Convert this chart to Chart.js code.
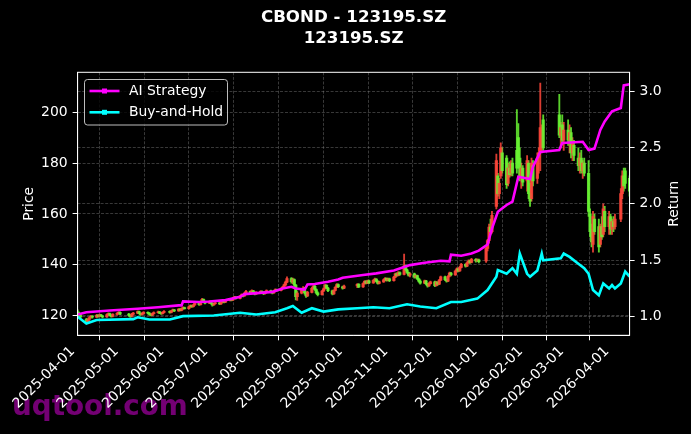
<!DOCTYPE html>
<html>
<head>
<meta charset="utf-8">
<script src="https://cdn.jsdelivr.net/npm/chart.js@4.4.1/dist/chart.umd.min.js"></script>
<style>
  html, body { margin: 0; padding: 0; background: #000; }
</style>
</head>
<body>
<canvas id="chart" width="691" height="434"></canvas>
<script>
// ---- data ----
const titleLines = ["CBOND - 123195.SZ", "123195.SZ"];
const startDate = "2025-04-01";
const endDate = "2026-04-13";
const holidays = ["2025-04-04", "2025-05-01", "2025-05-02", "2025-05-05", "2025-06-02",
  "2025-10-01", "2025-10-02", "2025-10-03", "2025-10-06", "2025-10-07", "2025-10-08",
  "2026-01-01", "2026-01-02", "2026-02-16", "2026-02-17", "2026-02-18", "2026-02-19",
  "2026-02-20", "2026-02-23", "2026-04-06"];
const monthTicks = ["2025-04-01", "2025-05-01", "2025-06-01", "2025-07-01", "2025-08-01",
  "2025-09-01", "2025-10-01", "2025-11-01", "2025-12-01", "2026-01-01", "2026-02-01",
  "2026-03-01", "2026-04-01"];
const priceTicks = [120, 140, 160, 180, 200];
const returnTicks = [1.0, 1.5, 2.0, 2.5, 3.0];

// open, high, low, close for each trading day
const ohlc = [
  // 2025-04
  [121.5,122.3,120.6,121.0],[121.0,121.4,119.8,120.2],[120.2,120.6,119.2,119.5],[118.6,119.0,116.9,117.6],
  [117.6,118.9,117.3,118.5],[118.5,119.6,118.0,119.3],[119.5,120.2,119.0,119.8],[119.8,120.1,119.0,119.4],
  [119.4,120.5,119.2,120.2],[120.2,120.4,119.4,119.7],[119.7,120.6,119.5,120.3],[120.3,120.5,119.6,119.9],
  [119.9,120.1,119.1,119.5],[119.5,120.7,119.3,120.4],[120.4,121.1,120.1,120.8],[120.8,121.0,119.9,120.1],
  [120.1,120.3,119.4,119.7],[119.7,120.8,119.5,120.5],[120.5,121.2,120.2,120.9],[120.9,121.6,120.6,121.3],
  [121.3,121.5,120.4,120.6],
  // 2025-05
  [120.6,120.9,119.8,120.1],[120.1,120.4,119.3,119.7],[119.7,120.9,119.5,120.6],[120.6,121.3,120.3,121.0],
  [121.0,121.9,120.8,121.6],[121.6,121.8,120.7,120.9],[120.9,121.1,120.1,120.4],[120.4,121.1,120.2,120.8],
  [120.8,121.6,120.6,121.3],[121.3,121.5,120.7,121.0],[121.0,121.2,120.3,120.5],[120.5,120.7,119.9,120.2],
  [120.2,121.0,120.0,120.8],[120.8,121.5,120.6,121.2],[121.2,121.8,121.0,121.5],[121.5,121.7,120.8,121.0],
  [121.0,121.2,120.5,120.8],[120.8,121.5,120.6,121.3],[121.3,122.0,121.1,121.7],
  // 2025-06
  [121.7,121.9,121.0,121.3],[121.3,122.1,121.1,121.9],[121.9,122.6,121.7,122.3],[122.3,122.5,121.6,121.9],
  [121.9,122.8,121.7,122.6],[122.6,122.8,121.9,122.1],[122.1,123.1,121.9,122.8],[122.8,123.5,122.5,123.2],
  [123.2,123.4,122.6,122.8],[122.8,123.8,122.6,123.5],[123.5,124.3,123.3,124.0],[124.0,124.2,123.3,123.6],
  [123.6,124.5,123.4,124.2],[124.2,125.2,124.0,124.9],[124.9,125.1,124.0,124.3],[124.3,125.8,124.1,125.5],
  [125.5,126.8,125.3,126.4],[126.4,126.6,125.2,125.5],[125.5,125.7,124.6,124.9],[124.9,125.9,124.7,125.6],
  // 2025-07
  [125.6,125.8,124.6,124.9],[124.9,125.1,123.8,124.2],[124.2,125.0,124.0,124.7],[124.7,125.4,124.5,125.1],
  [125.1,125.3,124.3,124.6],[124.6,125.6,124.4,125.3],[125.3,126.1,125.1,125.8],[125.8,126.0,125.0,125.3],
  [125.3,126.3,125.1,126.0],[126.0,126.8,125.8,126.5],[126.5,126.7,125.8,126.1],[126.1,127.1,125.9,126.8],
  [126.8,127.6,126.6,127.3],[127.3,127.5,126.5,126.8],[126.8,128.0,126.6,127.7],[127.7,128.6,127.5,128.3],
  [128.3,128.5,127.4,127.8],[127.8,129.2,127.6,128.9],[128.9,130.0,128.7,129.6],[129.6,129.8,128.6,129.0],
  [129.0,130.2,128.8,129.8],[129.8,130.0,128.9,129.2],[129.2,129.4,128.2,128.6],
  // 2025-08
  [128.6,129.5,128.4,129.2],[129.2,129.9,129.0,129.6],[129.6,129.8,128.8,129.1],[129.1,129.3,128.3,128.7],
  [128.7,129.6,128.5,129.3],[129.3,130.2,129.1,129.9],[129.9,130.1,129.0,129.3],[129.3,129.5,128.6,129.0],
  [129.0,130.0,128.8,129.7],[129.7,130.6,129.5,130.3],[130.3,130.5,129.6,129.9],[129.9,131.0,129.7,130.7],
  [130.7,131.6,130.5,131.3],[131.3,132.4,131.1,132.1],[132.1,133.6,131.8,133.2],[133.2,135.3,133.0,134.6],
  [134.6,135.0,132.8,133.4],[133.4,134.8,132.6,134.2],[134.2,134.5,131.5,132.0],[132.0,132.3,126.2,127.5],
  [127.5,129.5,126.0,128.9],
  // 2025-09
  [128.9,130.8,128.6,130.4],[130.4,131.5,129.8,130.9],[130.9,131.2,128.5,129.0],[129.0,129.4,127.2,127.8],
  [127.8,129.6,127.5,129.2],[129.2,131.2,129.0,130.8],[130.8,132.0,130.5,131.6],[131.6,131.9,129.9,130.3],
  [130.3,130.6,128.6,129.0],[129.0,129.4,127.8,128.3],[128.3,130.0,128.1,129.7],[129.7,131.0,129.5,130.6],
  [130.6,132.3,130.4,131.9],[131.9,132.2,130.6,130.9],[130.9,131.2,129.5,129.8],[129.8,130.1,128.2,128.6],
  [128.6,130.2,128.4,129.9],[129.9,131.5,129.7,131.2],[131.2,132.6,131.0,132.2],[132.2,132.5,131.0,131.4],
  [131.4,131.7,130.4,130.8],[130.8,132.0,130.6,131.7],
  // 2025-10
  [131.7,132.6,131.0,132.3],[132.3,132.6,131.0,131.3],[131.3,132.9,131.1,132.6],[132.6,133.8,132.4,133.5],
  [133.5,133.8,132.5,132.8],[132.8,134.0,132.6,133.7],[133.7,134.0,132.6,132.9],[132.9,134.2,132.7,133.9],
  [133.9,134.8,133.6,134.4],[134.4,134.6,133.2,133.5],[133.5,133.8,132.4,132.7],[132.7,133.6,132.5,133.3],
  [133.3,134.4,133.1,134.1],[134.1,135.0,133.9,134.7],[134.7,134.9,133.6,133.9],[133.9,134.8,133.7,134.5],
  [134.5,134.8,133.4,133.8],
  // 2025-11
  [133.8,135.5,133.6,135.2],[135.2,136.8,135.0,136.5],[136.5,136.9,135.4,135.8],[135.8,137.4,135.6,137.0],
  [137.0,137.3,135.8,136.2],[136.2,144.2,136.0,139.6],[139.6,139.9,137.6,138.0],[138.0,138.3,136.6,137.0],
  [137.0,137.2,135.5,135.9],[135.9,136.9,135.3,136.5],[136.5,136.8,134.8,135.2],[135.2,136.1,134.9,135.8],
  [135.8,136.0,134.2,134.5],[134.5,134.8,133.2,133.6],[133.6,134.1,132.4,132.8],[132.8,134.0,132.6,133.7],
  [133.7,133.9,132.1,132.5],[132.5,132.7,131.2,131.7],[131.7,133.0,131.5,132.6],[132.6,133.6,132.4,133.3],
  // 2025-12
  [133.3,133.6,131.4,131.8],[131.8,133.5,131.6,133.1],[133.1,133.4,132.0,132.4],[132.4,134.3,132.2,134.0],
  [134.0,135.6,133.8,135.3],[135.3,135.6,133.8,134.2],[134.2,134.5,133.2,133.6],[133.6,135.8,133.4,135.5],
  [135.5,137.2,135.3,136.8],[136.8,137.1,135.6,136.0],[136.0,137.9,135.8,137.5],[137.5,138.8,137.3,138.4],
  [138.4,138.7,137.2,137.6],[137.6,139.4,137.4,139.0],[139.0,140.6,138.8,140.2],[140.2,140.5,139.1,139.5],
  [139.5,141.2,139.3,140.8],[140.8,142.0,140.6,141.6],[141.6,141.9,140.6,141.0],[141.0,142.6,140.8,142.2],
  [142.2,142.5,141.1,141.5],[141.5,142.4,141.3,142.0],[142.0,142.3,140.8,141.2],
  // 2026-01
  [141.5,147.0,141.0,146.5],[146.5,150.0,145.5,149.5],[149.5,156.0,148.5,154.8],[154.8,158.0,152.0,153.0],
  [153.0,161.0,152.5,159.5],[163.0,183.5,162.0,181.0],[175.0,176.0,167.0,168.0],[168.0,174.0,166.0,172.0],
  [175.0,188.0,174.0,186.0],[184.0,186.0,176.0,177.0],[182.0,183.0,170.0,171.5],[172.0,180.0,171.0,178.0],
  [178.0,180.5,174.5,175.5],[176.0,181.0,175.0,179.5],[180.0,182.0,175.0,176.0],[185.0,201.0,176.0,178.0],
  [190.0,195.5,178.0,180.0],[182.0,186.0,173.0,175.0],[174.0,180.0,170.0,178.0],[178.0,179.0,171.0,172.5],
  // 2026-02
  [173,183,169,181],[180,181,166,168],[168,172,163,165],[166,182,165,180],[179,181,171,173],
  [174,184,172,182],[182,186,176,184],[185,211.5,177,194],[186,195,184,193],[197,199,185,186],
  [199,207,190,191],[191,196,186,194],[195,199,188,189],[189,196,185,193],
  // 2026-03
  [193,197,187,189],[189,195,184,192],[192,194,182,184],[184,190,181,188],[187,189,181,183],
  [182,186,177,179],[179,184,176,182],[182,185,176,177],[177,181,174,180],[180,182,175,176],
  [176,181,159,161],[160,162,151,153],[154,156,147,149],[148,161,145,159],[158,160,152,153],
  [155,158,145,147],[148,156,147,155],[155,159,150,151],[152,164,151,162],[161,163,153,155],
  [155,161,152,159],[159,160,152,154],
  // 2026-04
  [154,158,152,157],[157,159,153,155],[155,160,154,158],[158,170,157,168],
  [168,177,166,175],[175,178,169,171],[177,178,170,172],[174,175,167,169]
];

const aiDates = ["2025-04-01", "2025-04-07", "2025-04-23", "2025-05-12", "2025-05-26", "2025-06-09",
  "2025-06-11", "2025-06-12", "2025-06-23", "2025-06-30", "2025-07-11", "2025-07-21", "2025-07-24",
  "2025-08-12", "2025-08-19", "2025-08-25", "2025-08-28", "2025-09-03", "2025-09-05", "2025-09-10",
  "2025-09-19", "2025-09-26", "2025-09-29", "2025-10-13", "2025-10-22", "2025-11-03", "2025-11-10",
  "2025-11-14", "2025-11-24", "2025-12-05", "2025-12-11", "2025-12-12", "2025-12-19", "2025-12-26",
  "2025-12-31", "2026-01-06", "2026-01-09", "2026-01-13", "2026-01-19", "2026-01-23", "2026-01-27",
  "2026-02-04", "2026-02-06", "2026-02-11", "2026-02-24", "2026-02-26", "2026-03-12", "2026-03-16",
  "2026-03-20", "2026-03-24", "2026-03-27", "2026-04-01", "2026-04-07", "2026-04-09", "2026-04-13"];
const aiReturn = [1.02, 1.04, 1.055, 1.07, 1.083, 1.10,
  1.10, 1.135, 1.13, 1.135, 1.147, 1.176, 1.20,
  1.22, 1.25, 1.265, 1.25, 1.24, 1.285, 1.29,
  1.31, 1.33, 1.345, 1.37, 1.384, 1.41, 1.44,
  1.457, 1.478, 1.496, 1.49, 1.55, 1.54, 1.56,
  1.585, 1.64, 1.78, 1.93, 1.99, 2.02, 2.24,
  2.22, 2.33, 2.46, 2.477, 2.54, 2.55, 2.477,
  2.49, 2.655, 2.73, 2.82, 2.85, 3.05, 3.06];

const bhDates = ["2025-04-01", "2025-04-07", "2025-04-14", "2025-05-09", "2025-05-12", "2025-05-20",
  "2025-06-03", "2025-06-12", "2025-07-03", "2025-07-21", "2025-08-01", "2025-08-14", "2025-08-22",
  "2025-08-26", "2025-09-01", "2025-09-08", "2025-09-16", "2025-09-26", "2025-10-09", "2025-10-20",
  "2025-10-31", "2025-11-12", "2025-11-21", "2025-12-02", "2025-12-12", "2025-12-19", "2025-12-30",
  "2026-01-06", "2026-01-12", "2026-01-13", "2026-01-19", "2026-01-23", "2026-01-26", "2026-01-28",
  "2026-02-02", "2026-02-04", "2026-02-09", "2026-02-12", "2026-02-13", "2026-02-25", "2026-02-27",
  "2026-03-03", "2026-03-09", "2026-03-13", "2026-03-16", "2026-03-19", "2026-03-23", "2026-03-26",
  "2026-03-30", "2026-04-01", "2026-04-03", "2026-04-07", "2026-04-10", "2026-04-13"];
const bhReturn = [1.0, 0.94, 0.97, 0.978, 0.995, 0.975,
  0.975, 1.005, 1.01, 1.035, 1.02, 1.04, 1.074,
  1.094, 1.035, 1.075, 1.045, 1.065, 1.075, 1.083,
  1.075, 1.11, 1.09, 1.075, 1.13, 1.13, 1.16,
  1.236, 1.354, 1.413, 1.38, 1.43, 1.38, 1.56,
  1.38, 1.354, 1.41, 1.56, 1.50, 1.517, 1.56,
  1.53, 1.47, 1.43, 1.38, 1.236, 1.19, 1.295,
  1.25, 1.28, 1.25, 1.295, 1.40, 1.355];

// ---- helpers ----
const DAY = 86400000;
const t0 = Date.parse(startDate + "T00:00:00Z");
function dayNum(s) { return Math.round((Date.parse(s + "T00:00:00Z") - t0) / DAY); }
function dayStr(n) { return new Date(t0 + n * DAY).toISOString().slice(0, 10); }

let tradingDays = [];
for (let d = 0; d <= dayNum(endDate); d++) {
  let s = dayStr(d);
  let wd = new Date(t0 + d * DAY).getUTCDay();
  if (wd !== 0 && wd !== 6 && !holidays.includes(s)) tradingDays.push(d);
}

const UP = "rgba(255,70,58,0.85)";
const DOWN = "rgba(105,245,50,0.85)";
const FONT = "DejaVu Sans";

let n = Math.min(tradingDays.length, ohlc.length);
let wicks = [], bodies = [];
for (let i = 0; i < n; i++) {
  let [o, h, l, c] = ohlc[i];
  let up = c >= o;
  wicks.push({ x: tradingDays[i], y: [l, h], up: up });
  bodies.push({ x: tradingDays[i], y: [o, c], up: up });
}
const aiPts = aiDates.map((s, i) => ({ x: dayNum(s), y: aiReturn[i] }));
const bhPts = bhDates.map((s, i) => ({ x: dayNum(s), y: bhReturn[i] }));

const gridColor = "rgba(140,140,140,0.5)";

const decor = {
  id: "decor",
  beforeDraw(chart) {
    const ctx = chart.ctx;
    ctx.save();
    ctx.fillStyle = "#000";
    ctx.fillRect(0, 0, chart.width, chart.height);
    // watermark sits under the axis labels
    ctx.font = "bold 27.8px '" + FONT + "'";
    ctx.fillStyle = "rgba(128,0,128,0.9)";
    ctx.textAlign = "left";
    ctx.textBaseline = "alphabetic";
    ctx.fillText("uqtool.com", 12, 415);
    ctx.restore();
  },
  afterDraw(chart) {
    const ctx = chart.ctx;
    const a = chart.chartArea;
    ctx.save();

    // frame
    ctx.strokeStyle = "#fff";
    ctx.lineWidth = 1;
    ctx.strokeRect(a.left, a.top, a.right - a.left, a.bottom - a.top);

    // title
    const cx = (a.left + a.right) / 2;
    ctx.fillStyle = "#fff";
    ctx.textAlign = "center";
    ctx.textBaseline = "middle";
    ctx.font = "bold 16.67px '" + FONT + "'";
    ctx.fillText(titleLines[0], cx, 18);
    ctx.fillText(titleLines[1], cx, 39);

    // axis titles
    ctx.font = "13.9px '" + FONT + "'";
    ctx.save();
    ctx.translate(29, (a.top + a.bottom) / 2);
    ctx.rotate(-Math.PI / 2);
    ctx.fillText("Price", 0, 0);
    ctx.restore();
    ctx.save();
    ctx.translate(674, (a.top + a.bottom) / 2);
    ctx.rotate(-Math.PI / 2);
    ctx.fillText("Return", 0, 0);
    ctx.restore();

    // legend
    ctx.beginPath();
    ctx.roundRect(84.5, 79.5, 143, 45.5, 3);
    ctx.fillStyle = "rgba(0,0,0,0.8)";
    ctx.fill();
    ctx.strokeStyle = "rgba(210,210,210,0.9)";
    ctx.lineWidth = 1;
    ctx.stroke();
    const items = [chart.data.datasets[0], chart.data.datasets[1]];
    const ys = [91, 112.3];
    items.forEach((ds, i) => {
      ctx.strokeStyle = ds.borderColor;
      ctx.lineWidth = 2.6;
      ctx.beginPath();
      ctx.moveTo(89.5, ys[i]);
      ctx.lineTo(119.5, ys[i]);
      ctx.stroke();
      ctx.fillStyle = ds.borderColor;
      ctx.fillRect(102, ys[i] - 2.5, 5, 5);
      ctx.fillStyle = "#fff";
      ctx.textAlign = "left";
      ctx.textBaseline = "middle";
      ctx.fillText(ds.label, 129, ys[i] + 0.5);
    });

    ctx.restore();
  }
};

new Chart(document.getElementById("chart"), {
  type: "bar",
  data: {
    datasets: [
      { type: "line", label: "AI Strategy", data: aiPts, yAxisID: "y1", borderColor: "#ff00ff",
        borderWidth: 2.6, pointRadius: 0, tension: 0, order: 0 },
      { type: "line", label: "Buy-and-Hold", data: bhPts, yAxisID: "y1", borderColor: "#00ffff",
        borderWidth: 2.6, pointRadius: 0, tension: 0, order: 0 },
      { label: "wick", data: wicks, yAxisID: "y", barThickness: 1.2, grouped: false, order: 2,
        borderWidth: 0, backgroundColor: ctx => (ctx.raw && ctx.raw.up ? UP : DOWN) },
      { label: "body", data: bodies, yAxisID: "y", barThickness: 2.6, grouped: false, order: 1,
        borderWidth: 0, minBarLength: 0.6, backgroundColor: ctx => (ctx.raw && ctx.raw.up ? UP : DOWN) }
    ]
  },
  options: {
    responsive: false,
    animation: false,
    layout: { padding: { top: 72.3, left: 0, right: 0, bottom: 0 } },
    plugins: { legend: { display: false }, tooltip: { enabled: false }, title: { display: false } },
    scales: {
      x: {
        type: "linear",
        min: 0,
        max: dayNum(endDate),
        offset: false,
        afterBuildTicks: s => { s.ticks = monthTicks.map(t => ({ value: dayNum(t) })); },
        afterFit: s => { s.height = 98.7; },
        ticks: {
          color: "#fff", font: { family: FONT, size: 13.9 }, autoSkip: false,
          minRotation: 45, maxRotation: 45, padding: 3, labelOffset: -5,
          callback: v => dayStr(v)
        },
        grid: { color: gridColor, lineWidth: 0.8, tickColor: "#fff", tickLength: 5, tickWidth: 1 },
        border: { color: "#fff", width: 1, dash: [3, 1.6] }
      },
      y: {
        position: "left",
        min: 112.3,
        max: 215.7,
        afterBuildTicks: s => { s.ticks = priceTicks.map(v => ({ value: v })); },
        afterFit: s => { s.width = 77.6; },
        ticks: { color: "#fff", font: { family: FONT, size: 13.9 }, padding: 5 },
        grid: { color: gridColor, lineWidth: 0.8, tickColor: "#fff", tickLength: 5, tickWidth: 1 },
        border: { color: "#fff", width: 1, dash: [3, 1.6] }
      },
      y1: {
        position: "right",
        min: 0.835,
        max: 3.166,
        afterBuildTicks: s => { s.ticks = returnTicks.map(v => ({ value: v })); },
        afterFit: s => { s.width = 61.4; },
        ticks: { color: "#fff", font: { family: FONT, size: 13.9 }, padding: 5,
          callback: v => Number(v).toFixed(1) },
        grid: { color: gridColor, lineWidth: 0.8, tickColor: "#fff", tickLength: 5, tickWidth: 1 },
        border: { color: "#fff", width: 1, dash: [3, 1.6] }
      }
    }
  },
  plugins: [decor]
});
</script>
</body>
</html>
